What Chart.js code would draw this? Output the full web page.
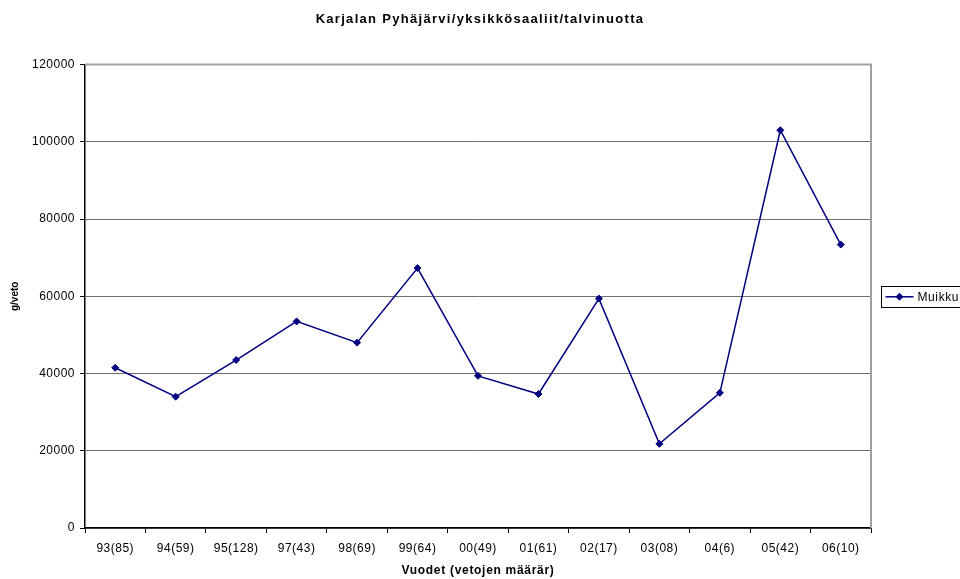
<!DOCTYPE html>
<html>
<head>
<meta charset="utf-8">
<script src="https://cdn.jsdelivr.net/npm/chart.js@4/dist/chart.umd.min.js"></script>
<style>
  html, body { margin: 0; padding: 0; background: #fff; }
  #wrap { width: 960px; height: 579px; }
</style>
</head>
<body>
<div id="wrap"><canvas id="c" width="960" height="579"></canvas></div>
<script>
// Catch per haul (g/veto), winter seine, by year (number of hauls)
const years = ['93(85)', '94(59)', '95(128)', '97(43)', '98(69)', '99(64)', '00(49)',
               '01(61)', '02(17)', '03(08)', '04(6)', '05(42)', '06(10)'];
const muikku = [41500, 34000, 43500, 53500, 48000, 67300, 39400,
                34700, 59400, 21800, 35000, 103000, 73400];
const yTicks = [0, 20000, 40000, 60000, 80000, 100000, 120000];

const FONT = "'Liberation Sans', Arial, sans-serif";
const NAVY = '#000080';
const LEGEND_WIDTH = 89;

// Wrap a draw method so its text is rendered with extra letter spacing
function spaced(obj, method, spacing) {
  if (!obj || obj['__spaced_' + method]) return;
  const orig = obj[method];
  obj[method] = function (...args) {
    const ctx = this.ctx;
    const prev = ctx.letterSpacing;
    ctx.letterSpacing = spacing;
    try { return orig.apply(this, args); } finally { ctx.letterSpacing = prev; }
  };
  obj['__spaced_' + method] = true;
}

const spacingPlugin = {
  id: 'letterSpacing',
  beforeDraw(chart) {
    spaced(chart.titleBlock, 'draw', '1.3px');
    spaced(chart.scales.x, 'drawLabels', '0.5px');
    spaced(chart.scales.y, 'drawLabels', '0.5px');
    spaced(chart.scales.x, 'drawTitle', '0.7px');
  }
};

// Right-hand column reserved for the legend, plus the plot frame
const sideLegend = {
  id: 'sideLegend',
  beforeInit(chart) {
    const box = {
      position: 'right',
      weight: 1000,
      fullSize: false,
      options: {},
      left: 0, top: 0, right: 0, bottom: 0, width: 0, height: 0,
      isHorizontal() { return false; },
      update(maxWidth, maxHeight) { this.width = LEGEND_WIDTH; this.height = maxHeight; },
      draw() {}
    };
    chart.$sideBox = box;
    Chart.layouts.addBox(chart, box);
  },
  afterDraw(chart) {
    const { ctx, chartArea: a } = chart;
    ctx.save();
    // top and right edges of the plot
    ctx.strokeStyle = '#a0a0a0';
    ctx.lineWidth = 2;
    ctx.beginPath();
    ctx.moveTo(a.left, a.top);
    ctx.lineTo(a.right, a.top);
    ctx.lineTo(a.right, a.bottom);
    ctx.stroke();

    // legend entry
    const ds = chart.data.datasets[0];
    const bx = a.right + 10.5;
    const cy = (a.top + a.bottom) / 2;
    ctx.lineWidth = 1;
    ctx.strokeStyle = '#000';
    ctx.strokeRect(bx, Math.round(cy - 10) + 0.5, 100, 21);
    ctx.strokeStyle = ds.borderColor;
    ctx.lineWidth = 1.5;
    ctx.beginPath();
    ctx.moveTo(bx + 4, cy + 0.5);
    ctx.lineTo(bx + 32, cy + 0.5);
    ctx.stroke();
    ctx.fillStyle = ds.pointBackgroundColor;
    const r = 4, mx = bx + 18, my = cy + 0.5;
    ctx.beginPath();
    ctx.moveTo(mx, my - r);
    ctx.lineTo(mx + r, my);
    ctx.lineTo(mx, my + r);
    ctx.lineTo(mx - r, my);
    ctx.closePath();
    ctx.fill();
    ctx.fillStyle = '#000';
    ctx.font = '12px ' + FONT;
    ctx.letterSpacing = '0.6px';
    ctx.textBaseline = 'middle';
    ctx.textAlign = 'left';
    ctx.fillText(ds.label, bx + 36, cy + 1);
    ctx.restore();
  }
};

new Chart(document.getElementById('c'), {
  type: 'line',
  data: {
    labels: years,
    datasets: [{
      label: 'Muikku',
      data: muikku,
      borderColor: NAVY,
      backgroundColor: NAVY,
      pointBackgroundColor: NAVY,
      pointBorderColor: NAVY,
      borderWidth: 1.5,
      pointStyle: 'rectRot',
      pointRadius: 3.5,
      pointBorderWidth: 1,
      tension: 0,
      fill: false
    }]
  },
  options: {
    responsive: false,
    animation: false,
    devicePixelRatio: 1,
    layout: { padding: 0 },
    plugins: {
      legend: { display: false },
      tooltip: { enabled: false },
      title: {
        display: true,
        text: 'Karjalan Pyhäjärvi/yksikkösaaliit/talvinuotta',
        color: '#000',
        font: { family: FONT, size: 13, weight: 'bold' },
        padding: { top: 12, bottom: 37 }
      }
    },
    scales: {
      x: {
        offset: true,
        afterFit(scale) { scale.height = 51; },
        grid: {
          display: true,
          offset: true,
          drawOnChartArea: false,
          drawTicks: true,
          tickLength: 5,
          color: '#000'
        },
        border: { display: true, color: '#000', width: 1.5 },
        ticks: {
          color: '#000',
          font: { family: FONT, size: 12 },
          padding: 8,
          maxRotation: 0,
          autoSkip: false
        },
        title: {
          display: true,
          text: 'Vuodet (vetojen määrär)',
          color: '#000',
          font: { family: FONT, size: 12, weight: 'bold' },
          padding: { top: 2, bottom: 1 }
        }
      },
      y: {
        min: 0,
        max: 120000,
        afterFit(scale) { scale.width = 85; },
        afterBuildTicks(scale) { scale.ticks = yTicks.map(v => ({ value: v })); },
        grid: {
          color: '#707070',
          tickColor: '#000',
          tickLength: 5,
          drawTicks: true
        },
        border: { display: true, color: '#000', width: 1.5 },
        ticks: {
          color: '#000',
          font: { family: FONT, size: 12 },
          padding: 5,
          callback: v => String(v)
        },
        title: {
          display: true,
          text: 'g/veto',
          color: '#000',
          font: { family: FONT, size: 10, weight: 'bold' },
          padding: { top: 9, bottom: 0 }
        }
      }
    }
  },
  plugins: [spacingPlugin, sideLegend]
});
</script>
</body>
</html>
